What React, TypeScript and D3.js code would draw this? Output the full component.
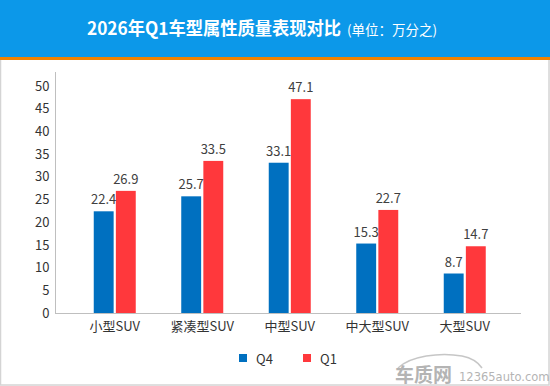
import * as d3 from 'd3'
import { useEffect, useRef } from 'react'

const categories = ['小型SUV', '紧凑型SUV', '中型SUV', '中大型SUV', '大型SUV']
const seriesNames = ['Q4', 'Q1']
const q4Values = [22.4, 25.7, 33.1, 15.3, 8.7]
const q1Values = [26.9, 33.5, 47.1, 22.7, 14.7]
const yTicks = [0, 5, 10, 15, 20, 25, 30, 35, 40, 45, 50]

const colors = ['#0070C0', '#FF383C']
const font = '"Noto Sans CJK SC", "Noto Sans", sans-serif'

const App = () => {
    const ref = useRef<SVGSVGElement>(null)

    useEffect(() => {
        const width = 550
        const height = 386
        const svg = d3.select(ref.current)
        svg.selectAll('*').remove()

        // fondo + cornice grigia
        svg.append('rect')
            .attr('x', 0.5).attr('y', 0.5)
            .attr('width', width - 1.5).attr('height', height - 1.5)
            .attr('fill', '#fff')
            .attr('stroke', '#d4d4d4')
            .attr('stroke-width', 1.5)

        // banner titolo
        svg.append('rect')
            .attr('x', 0).attr('y', 0)
            .attr('width', width).attr('height', 57)
            .attr('fill', '#0C98E9')
        svg.append('rect')
            .attr('x', 0).attr('y', 57)
            .attr('width', width).attr('height', 3)
            .attr('fill', '#F08200')

        svg.append('text')
            .attr('x', 87).attr('y', 35)
            .attr('fill', '#fff')
            .attr('textLength', 254)
            .attr('lengthAdjust', 'spacingAndGlyphs')
            .style('font-family', font)
            .style('font-size', '18px')
            .style('font-weight', 'bold')
            .text('2026年Q1车型属性质量表现对比')
        svg.append('text')
            .attr('x', 347).attr('y', 35)
            .attr('fill', '#fff')
            .style('font-family', font)
            .style('font-size', '13.5px')
            .text('(单位：万分之)')

        // scale
        const x0 = d3.scaleBand<string>()
            .domain(categories)
            .range([71, 508.5])
        const x1 = d3.scaleBand<string>()
            .domain(seriesNames)
            .range([0, 42])
            .paddingInner(0.1)
        const y = d3.scaleLinear()
            .domain([0, 50])
            .range([313, 86])

        const plot = svg.append('g')

        // asse y
        const yAxis = plot.append('g')
            .attr('transform', 'translate(55.5,0)')
            .call(d3.axisLeft(y).tickValues(yTicks).tickSize(0).tickPadding(6))
        yAxis.select('.domain').remove()
        yAxis.selectAll('text')
            .attr('fill', '#333')
            .style('font-size', '13px')
            .style('font-family', font)
        plot.append('line')
            .attr('x1', 55.5).attr('x2', 55.5)
            .attr('y1', 72).attr('y2', 313)
            .attr('stroke', '#bfbfbf')

        // asse x
        const xAxis = plot.append('g')
            .attr('transform', 'translate(0,313)')
            .call(d3.axisBottom(x0).tickSize(0).tickPadding(9))
        xAxis.select('.domain').remove()
        xAxis.selectAll('text')
            .attr('fill', '#333')
            .style('font-size', '13px')
            .style('font-family', font)
        plot.append('line')
            .attr('x1', 55).attr('x2', 521)
            .attr('y1', 313.5).attr('y2', 313.5)
            .attr('stroke', '#bfbfbf')

        // barre
        const rows = categories.map((c, i) => ({ cat: c, values: [q4Values[i], q1Values[i]] }))
        const groups = plot.selectAll('.grp')
            .data(rows)
            .enter()
            .append('g')
            .attr('class', 'grp')
            .attr('transform', d => `translate(${(x0(d.cat) as number) + x0.bandwidth() / 2 - 21},0)`)

        groups.selectAll('rect')
            .data(d => d.values.map((v, j) => ({ key: seriesNames[j], v, j })))
            .enter()
            .append('rect')
            .attr('x', d => x1(d.key) as number)
            .attr('y', d => y(d.v))
            .attr('width', x1.bandwidth())
            .attr('height', d => 313 - y(d.v))
            .attr('fill', d => colors[d.j])

        groups.selectAll('.lbl')
            .data(d => d.values.map((v, j) => ({ key: seriesNames[j], v, j })))
            .enter()
            .append('text')
            .attr('class', 'lbl')
            .attr('x', d => (x1(d.key) as number) + x1.bandwidth() / 2)
            .attr('y', d => y(d.v) - 7)
            .attr('text-anchor', 'middle')
            .attr('fill', '#404040')
            .style('font-size', '13px')
            .style('font-family', font)
            .text(d => d.v.toFixed(1))

        // legenda
        const legend = svg.append('g')
        seriesNames.forEach((s, i) => {
            const lx = 239 + i * 64
            legend.append('rect')
                .attr('x', lx).attr('y', 354)
                .attr('width', 8).attr('height', 8)
                .attr('fill', colors[i])
            legend.append('text')
                .attr('x', lx + 17).attr('y', 364)
                .attr('fill', '#333')
                .style('font-size', '13px')
                .style('font-family', font)
                .text(s)
        })

        // watermark
        const wm = svg.append('g').attr('opacity', 0.55)
        wm.append('path')
            .attr('d', 'M398,368 C410,356 440,352 462,356 C472,358 478,362 482,368')
            .attr('fill', 'none')
            .attr('stroke', '#999')
            .attr('stroke-width', 1.5)
        wm.append('text')
            .attr('x', 395).attr('y', 382)
            .attr('fill', '#777')
            .style('font-size', '19px')
            .style('font-weight', 'bold')
            .style('font-family', font)
            .text('车质网')
        wm.append('text')
            .attr('x', 459).attr('y', 381)
            .attr('fill', '#777')
            .style('font-size', '11.5px')
            .style('font-family', '"DejaVu Sans", sans-serif')
            .text('12365auto.com')
    }, [])

    return (
        <svg
            ref={ref}
            width={550}
            height={386}
            style={{ position: 'absolute', left: 0, top: 0, display: 'block' }}
        />
    )
}

export default App
